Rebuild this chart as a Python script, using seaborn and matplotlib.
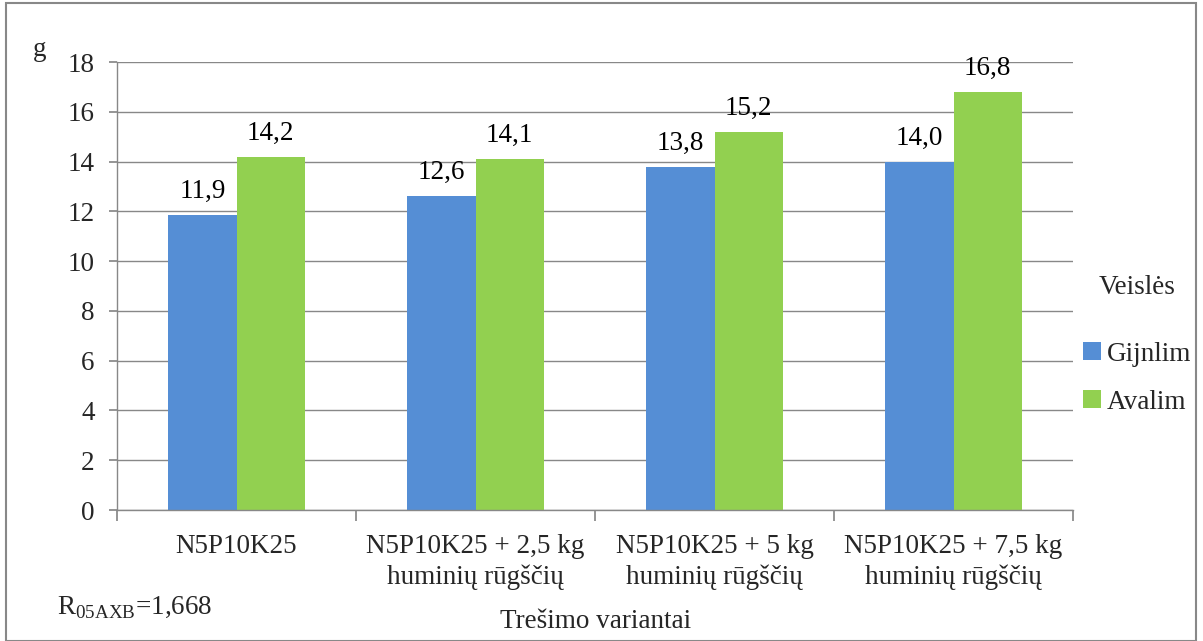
import matplotlib
matplotlib.use("Agg")
import matplotlib.pyplot as plt
import seaborn as sns
import pandas as pd
from matplotlib.patches import Rectangle, Patch

categories = ["N5P10K25", "N5P10K25 + 2,5 kg\nhuminių rūgščių",
              "N5P10K25 + 5 kg\nhuminių rūgščių", "N5P10K25 + 7,5 kg\nhuminių rūgščių"]
series_names = ["Gijnlim", "Avalim"]
gijnlim = [11.85, 12.6, 13.8, 14.0]
avalim = [14.2, 14.1, 15.2, 16.8]
gijnlim_labels = ["11,9", "12,6", "13,8", "14,0"]
avalim_labels = ["14,2", "14,1", "15,2", "16,8"]
colors = ["#558ED5", "#92D050"]

df = pd.DataFrame({
    "cat": categories * 2,
    "Veislės": [series_names[0]] * 4 + [series_names[1]] * 4,
    "val": gijnlim + avalim,
})

sns.set_theme(style="white")
plt.rcParams["font.family"] = ["Liberation Serif", "DejaVu Serif"]
plt.rcParams["mathtext.fontset"] = "custom"
plt.rcParams["mathtext.rm"] = "Liberation Serif"

FS = 19.5

fig = plt.figure(figsize=(12.03, 6.41), dpi=100)
ax = fig.add_axes([117 / 1203, 1 - 510 / 641, 956 / 1203, 448 / 641])

sns.barplot(data=df, x="cat", y="val", hue="Veislės", palette=colors,
            width=0.57, gap=0, ax=ax, legend=False, saturation=1, linewidth=0)

for cont, labs in zip(ax.containers, [gijnlim_labels, avalim_labels]):
    ax.bar_label(cont, labels=labs, padding=8, fontsize=FS, color="black")

ax.set_ylim(0, 18)
ax.set_yticks(range(0, 19, 2))
ax.set_xlim(-0.5, 3.5)
ax.yaxis.grid(True, color="#888888", linewidth=1)
ax.set_axisbelow(True)
for s in ["top", "right"]:
    ax.spines[s].set_visible(False)
for s in ["left", "bottom"]:
    ax.spines[s].set_color("#888888")
    ax.spines[s].set_linewidth(1)

ax.set_xticks([-0.5, 0.5, 1.5, 2.5, 3.5])
ax.set_xticklabels([])
ax.set_xticks([0, 1, 2, 3], minor=True)
ax.set_xticklabels(categories, minor=True, fontsize=FS, linespacing=1.3)
ax.tick_params(axis="x", which="major", length=8, color="#888888", direction="out", bottom=True)
ax.tick_params(axis="x", which="minor", length=0, pad=17)
ax.tick_params(axis="y", length=6, color="#888888", direction="out", left=True, labelsize=FS, pad=10)
ax.set_xlabel("")
ax.set_ylabel("")

fig.text(40 / 1203, 1 - 50 / 641, "g", fontsize=FS, ha="center", va="center")
fig.text(596 / 1203, 1 - 622 / 641, "Trešimo variantai", fontsize=FS, ha="center", va="center")
fig.text(57 / 1203, 1 - 607 / 641, r"$\mathrm{R}_{\mathrm{05AXB}}$=1,668", fontsize=FS,
         ha="left", va="center")

handles = [Patch(facecolor=c, edgecolor="none") for c in colors]
leg = fig.legend(handles, series_names, title="Veislės", loc="center left",
                 bbox_to_anchor=(1059 / 1203, 1 - 345 / 641), frameon=False,
                 fontsize=FS, title_fontsize=FS, handlelength=0.65, handleheight=0.65,
                 handletextpad=0.2, labelspacing=0.85)
leg._legend_box.sep = 30

fig.patches.append(Rectangle((6 / 1203, 0), 1190 / 1203, 1 - 3 / 641,
                             transform=fig.transFigure, fill=False,
                             edgecolor="#888888", linewidth=1.5))

fig.savefig("out.png", dpi=100)
